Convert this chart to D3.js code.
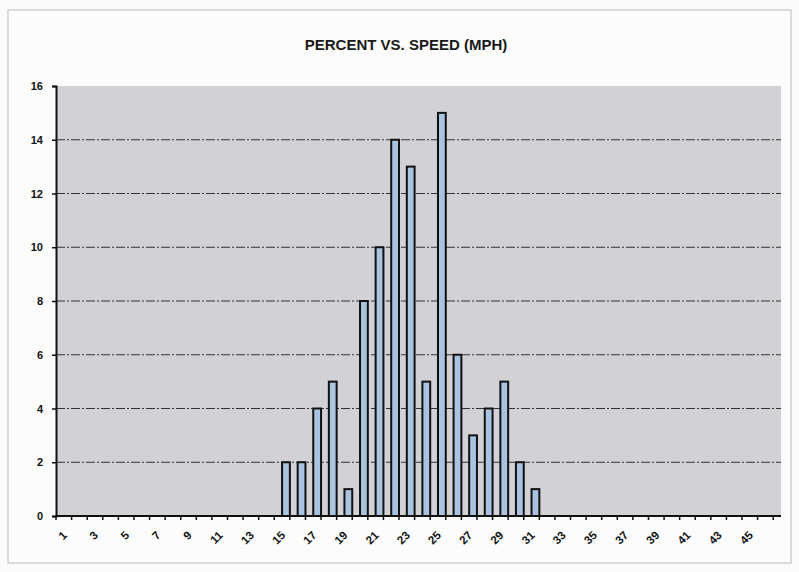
<!DOCTYPE html>
<html>
<head>
<meta charset="utf-8">
<script src="https://cdn.jsdelivr.net/npm/d3@7"></script>
<style>
  body { margin: 0; background: #fafafa; }
  svg { display: block; font-family: "Liberation Sans", Arial, sans-serif; }
</style>
</head>
<body>
<svg id="chart" width="799" height="572"></svg>
<script>
// speed categories 1..46 mph, percent of vehicles
var speeds = d3.range(1, 47);
var percents = [0,0,0,0,0,0,0,0,0,0,0,0,0,0,
    2,2,4,5,1,8,10,14,13,5,15,6,3,4,5,2,1,
    0,0,0,0,0,0,0,0,0,0,0,0,0,0,0];
var yTicks = [0, 2, 4, 6, 8, 10, 12, 14, 16];
var title = "PERCENT VS. SPEED (MPH)";

var data = speeds.map(function(s, i) { return { speed: s, value: percents[i] }; });

var svg = d3.select("#chart"),
    margin = { left: 56, right: 18, top: 86, bottom: 56 },
    width = 799 - margin.left - margin.right,
    height = 572 - margin.top - margin.bottom;

// outer chart frame
svg.append("rect")
    .attr("x", 8).attr("y", 10)
    .attr("width", 783).attr("height", 553)
    .attr("fill", "#fcfcfc")
    .attr("stroke", "#bbb")
    .attr("stroke-width", 1);

svg.append("text")
    .attr("x", 406).attr("y", 50)
    .attr("text-anchor", "middle")
    .attr("font-size", 15)
    .attr("font-weight", "bold")
    .attr("fill", "#1a1a1a")
    .text(title);

var x = d3.scaleBand().domain(speeds).range([0, width]).padding(0.5);
var y = d3.scaleLinear().domain([0, 16]).range([height, 0]);

var g = svg.append("g").attr("transform", "translate(" + margin.left + "," + margin.top + ")");

g.append("rect")
    .attr("width", width).attr("height", height)
    .attr("fill", "#d2d2d6");

// dashed gridlines
g.selectAll(".grid")
    .data(yTicks.filter(function(d) { return d > 0 && d < 16; }))
    .enter().append("line")
    .attr("class", "grid")
    .attr("x1", 0).attr("x2", width)
    .attr("y1", function(d) { return y(d); })
    .attr("y2", function(d) { return y(d); })
    .attr("stroke", "#333")
    .attr("stroke-width", 1)
    .attr("stroke-dasharray", "9,2,2,2");

g.selectAll(".bar")
    .data(data.filter(function(d) { return d.value > 0; }))
    .enter().append("rect")
    .attr("class", "bar")
    .attr("x", function(d) { return x(d.speed); })
    .attr("y", function(d) { return y(d.value); })
    .attr("width", x.bandwidth())
    .attr("height", function(d) { return height - y(d.value); })
    .attr("fill", "#a9c3e0")
    .attr("stroke", "#111")
    .attr("stroke-width", 2);

// y axis
var yAxis = g.append("g")
    .call(d3.axisLeft(y).tickValues(yTicks).tickSize(4).tickPadding(9));
yAxis.select(".domain").attr("stroke", "#111").attr("stroke-width", 2);
yAxis.selectAll("line").attr("stroke", "#111").attr("stroke-width", 1.5);
yAxis.selectAll("text")
    .attr("font-size", 11)
    .attr("font-weight", "bold")
    .attr("fill", "#111");

// x axis: ticks at category boundaries, labels on odd speeds
var xAxisG = g.append("g").attr("transform", "translate(0," + height + ")");
xAxisG.append("line")
    .attr("x1", 0).attr("x2", width)
    .attr("stroke", "#111").attr("stroke-width", 2);
xAxisG.selectAll(".xtick")
    .data(d3.range(speeds.length + 1))
    .enter().append("line")
    .attr("class", "xtick")
    .attr("x1", function(i) { return i * x.step(); })
    .attr("x2", function(i) { return i * x.step(); })
    .attr("y1", 0).attr("y2", 4)
    .attr("stroke", "#111").attr("stroke-width", 1.5);
xAxisG.selectAll(".xlabel")
    .data(speeds.filter(function(s) { return s % 2 == 1; }))
    .enter().append("text")
    .attr("class", "xlabel")
    .attr("text-anchor", "end")
    .attr("font-size", 11.5)
    .attr("font-weight", "bold")
    .attr("fill", "#111")
    .attr("transform", function(s) {
        return "translate(" + (x(s) + x.bandwidth() / 2) + ",20) rotate(-45)";
    })
    .text(function(s) { return s; });
</script>
</body>
</html>
